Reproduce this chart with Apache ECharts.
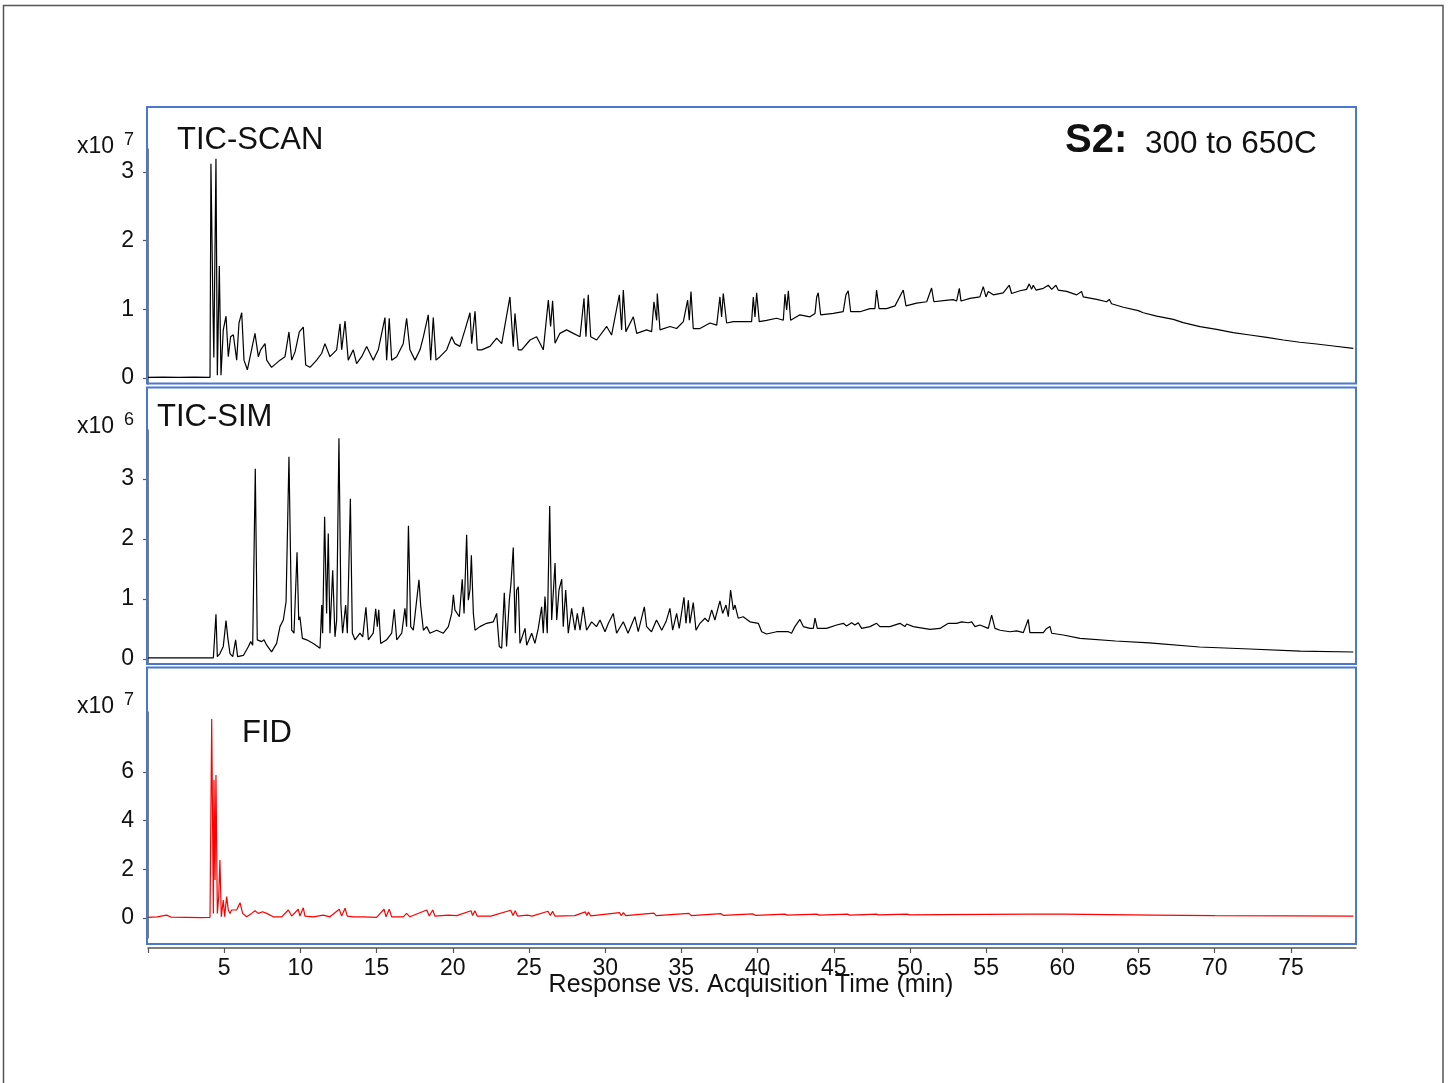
<!DOCTYPE html>
<html>
<head>
<meta charset="utf-8">
<script src="https://cdn.jsdelivr.net/npm/echarts@6/dist/echarts.min.js"></script>
<style>html,body{margin:0;padding:0;background:#fff}#c{width:1448px;height:1083px}</style>
</head>
<body>
<div id="c"></div>
<script>
// Time axis (min)
const xTicks = [0,5,10,15,20,25,30,35,40,45,50,55,60,65,70,75];
const xLabels = [5,10,15,20,25,30,35,40,45,50,55,60,65,70,75];
const yTicksScan = [0,1,2,3];
const yTicksSim = [0,1,2,3];
const yTicksFid = [0,2,4,6];
const panelTitles = ['TIC-SCAN','TIC-SIM','FID'];
const exponents = ['7','6','7'];
const axisTitle = 'Response vs. Acquisition Time (min)';

// TIC-SCAN, x10^7
const scanData = [
[0,0.01],[1.0,0.012],[2.0,0.01],[3.0,0.012],[4.07,0.01],
[4.13,3.12],[4.25,1.2],[4.32,0.3],[4.46,3.19],[4.55,0.04],[4.68,1.63],[4.79,0.04],[4.94,0.70],[5.12,0.90],[5.27,0.31],[5.42,0.60],[5.60,0.63],[5.82,0.26],[5.97,0.80],[6.15,0.95],[6.30,0.26],[6.52,0.12],[7.02,0.65],[7.24,0.31],[7.39,0.41],[7.68,0.50],[7.79,0.26],[8.11,0.155],[8.66,0.26],[8.99,0.31],[9.25,0.67],[9.43,0.26],[9.65,0.38],[9.93,0.67],[10.19,0.74],[10.35,0.19],[10.63,0.155],[11.07,0.26],[11.40,0.36],[11.61,0.50],[11.94,0.31],[12.38,0.41],[12.60,0.79],[12.71,0.41],[12.93,0.83],[13.14,0.26],[13.47,0.41],[13.69,0.21],[14.02,0.31],[14.35,0.46],[14.78,0.26],[15.11,0.41],[15.55,0.88],[15.66,0.26],[15.83,0.87],[15.99,0.26],[16.32,0.31],[16.75,0.50],[16.97,0.87],[17.19,0.41],[17.52,0.26],[17.85,0.41],[18.07,0.60],[18.39,0.92],[18.55,0.26],[18.72,0.88],[18.90,0.26],[19.16,0.31],[19.60,0.41],[19.93,0.60],[20.14,0.50],[20.47,0.46],[20.80,0.70],[21.13,0.95],[21.24,0.50],[21.46,0.97],[21.61,0.41],[21.89,0.41],[22.44,0.46],[22.88,0.58],[23.21,0.50],
[23.75,1.18],[23.97,0.455],[24.08,0.94],[24.30,0.41],[24.52,0.41],[25.07,0.553],[25.50,0.60],[25.94,0.41],[26.27,1.135],[26.42,0.75],[26.55,1.125],[26.71,0.505],[27.03,0.65],[27.47,0.70],[27.91,0.65],[28.35,0.60],[28.61,1.16],[28.74,0.60],[28.89,1.21],[29.05,0.60],[29.44,0.553],[30.10,0.75],[30.42,0.625],[30.93,1.21],[31.08,0.70],[31.19,1.28],[31.36,0.675],[31.85,0.89],[32.07,0.65],[32.72,0.70],[33.05,0.675],[33.20,1.11],[33.38,0.84],[33.42,1.23],[33.60,0.70],[34.25,0.75],[34.69,0.72],[35.13,0.82],[35.41,1.135],[35.52,0.84],[35.63,1.26],[35.78,0.72],[36.22,0.72],[36.88,0.80],[37.32,0.77],[37.53,1.18],[37.64,0.89],[37.75,1.23],[37.97,0.80],[38.41,0.82],[39.06,0.82],[39.61,0.82],[39.72,1.18],[39.83,0.89],[39.94,1.24],[40.11,0.82],[40.59,0.84],[41.25,0.87],[41.69,0.84],[41.80,1.22],[41.91,0.99],[42.02,1.27],[42.17,0.84],[42.78,0.92],[43.44,0.89],[43.77,0.94],[43.88,1.18],[43.98,1.24],[44.14,0.92],[44.97,0.94],[45.62,0.965],[45.80,1.21],[45.95,1.27],[46.11,0.965],[46.72,0.965],[47.38,1.01],[47.70,1.01],[47.81,1.28],[47.97,1.01],[48.47,1.01],[49.02,1.05],[49.13,1.04],[49.56,1.28],[49.74,1.05],[50.44,1.09],[51.10,1.11],[51.42,1.31],[51.57,1.11],[52.19,1.125],[52.84,1.14],
[53.06,1.12],[53.24,1.305],[53.35,1.12],[53.94,1.16],[54.59,1.18],[54.81,1.33],[54.99,1.18],[55.14,1.26],[55.47,1.21],[56.12,1.24],[56.52,1.35],[56.67,1.23],[57.22,1.27],[57.65,1.29],[57.83,1.37],[57.98,1.29],[58.09,1.35],[58.27,1.28],[58.75,1.305],[59.08,1.35],[59.30,1.29],[59.58,1.35],[59.73,1.28],[60.28,1.26],[60.94,1.21],[61.26,1.26],[61.37,1.18],[62.25,1.145],[62.91,1.11],[63.08,1.145],[63.23,1.08],[64.00,1.03],[64.98,0.98],[65.09,1.0],[65.31,0.95],[66.19,0.90],[67.28,0.854],[67.93,0.805],[69.03,0.747],[70.12,0.709],[71.21,0.66],[72.31,0.626],[73.41,0.592],[74.50,0.553],[75.59,0.52],[76.69,0.495],[77.78,0.466],[79.09,0.432]
];

// TIC-SIM, x10^6
const simData = [
[0,0.02],[2,0.02],[4.29,0.02],[4.33,0.01],[4.46,0.745],[4.55,0.04],[4.72,0.09],[4.94,0.21],[5.12,0.64],[5.23,0.37],[5.38,0.09],[5.56,0.04],[5.75,0.32],[5.88,0.04],[6.26,0.06],[6.59,0.21],[6.74,0.29],[6.87,0.23],[7.04,3.17],[7.17,0.32],[7.46,0.29],[7.61,0.32],[7.79,0.23],[8.11,0.12],[8.44,0.26],[8.66,0.54],[8.88,0.65],[9.06,0.955],[9.14,0.98],[9.25,3.37],[9.43,0.48],[9.58,0.43],[9.78,1.78],[9.89,0.65],[9.97,0.705],[10.13,0.345],[10.41,0.32],[10.85,0.26],[11.29,0.18],[11.40,0.9],[11.46,0.43],[11.59,2.37],[11.72,0.76],[11.83,2.09],[11.94,0.43],[12.12,1.48],[12.27,0.37],[12.38,0.65],[12.53,3.68],[12.66,0.9],[12.77,0.43],[12.97,0.9],[13.08,0.43],[13.28,2.67],[13.41,0.43],[13.58,0.32],[13.91,0.43],[14.09,0.37],[14.30,0.86],[14.46,0.32],[14.78,0.43],[14.94,0.835],[15.05,0.54],[15.14,0.82],[15.27,0.26],[15.66,0.32],[15.99,0.43],[16.16,0.83],[16.32,0.32],[16.65,0.43],[16.86,0.845],[16.97,0.54],[17.09,2.22],[17.24,0.54],[17.41,0.48],[17.78,1.32],[17.89,0.9],[18.07,0.48],[18.29,0.54],[18.50,0.43],[18.94,0.48],[19.38,0.43],[19.71,0.54],[19.93,0.76],[20.04,1.07],[20.14,0.82],[20.43,0.705],[20.62,1.33],[20.74,0.76],[20.91,2.07],[21.02,0.98],[21.13,1.15],[21.22,1.73],[21.35,0.76],[21.46,0.48],[21.78,0.54],[22.22,0.595],[22.66,0.62],[22.88,0.76],[23.05,0.21],[23.21,0.18],[23.38,1.105],[23.53,0.21],[23.71,0.98],[23.82,1.26],[23.97,1.86],[24.10,0.43],[24.19,1.15],[24.30,1.205],[24.41,0.26],[24.74,0.51],[24.85,0.23],[25.18,0.43],[25.39,0.26],[25.61,0.51],[25.83,0.87],[25.94,0.43],[26.05,1.04],[26.20,0.43],[26.36,2.55],[26.49,0.65],[26.71,1.6],[26.82,0.65],[26.97,1.15],[27.15,1.33],[27.25,0.54],[27.41,1.15],[27.58,0.43],[27.80,0.845],[28.02,0.48],[28.17,0.76],[28.35,0.48],[28.56,0.87],
[28.78,0.48],[29.11,0.62],[29.43,0.54],[29.66,0.65],[29.99,0.455],[30.21,0.595],[30.53,0.76],[30.75,0.43],[31.19,0.62],[31.50,0.43],[31.95,0.705],[32.17,0.455],[32.57,0.87],[32.72,0.54],[33.04,0.455],[33.37,0.65],[33.71,0.48],[33.99,0.62],[34.25,0.845],[34.43,0.48],[34.69,0.76],[34.86,0.51],[35.17,1.03],[35.30,0.595],[35.46,0.98],[35.56,0.595],[35.78,0.94],[35.96,0.48],[36.22,0.595],[36.55,0.68],[36.77,0.62],[36.99,0.82],[37.20,0.65],[37.53,0.97],[37.71,0.76],[37.93,0.9],[38.08,0.705],[38.23,1.15],[38.41,0.82],[38.52,0.9],[38.73,0.68],[39.06,0.705],[39.50,0.62],[40.05,0.595],[40.27,0.455],[40.59,0.417],[41.25,0.455],[42.02,0.455],[42.23,0.43],[42.45,0.54],[42.78,0.66],[43.00,0.54],[43.44,0.51],[43.66,0.51],[43.77,0.68],[43.92,0.51],[44.53,0.51],[45.19,0.567],[45.63,0.595],[45.84,0.55],[46.17,0.605],[46.39,0.567],[46.61,0.605],[46.83,0.51],[47.38,0.54],[47.81,0.595],[48.03,0.54],[48.69,0.54],[49.34,0.595],[49.67,0.54],[49.78,0.583],[50.22,0.54],[51.31,0.495],[51.97,0.51],[52.52,0.595],[53.06,0.595],[53.39,0.62],[53.83,0.605],[54.05,0.62],[54.27,0.54],[54.59,0.567],[55.14,0.51],[55.36,0.733],[55.58,0.51],[55.91,0.48],[56.56,0.455],[57.00,0.47],[57.44,0.44],[57.76,0.66],[57.87,0.44],[58.75,0.44],[58.97,0.51],[59.19,0.54],[59.30,0.43],[60.06,0.40],[61.16,0.345],[63.5,0.30],[65.7,0.27],[69,0.2],[72.3,0.167],[75.6,0.133],[79.1,0.117]
];

// FID, x10^7
const fidData = [
[0,0.03],[0.6,0.05],[1.22,0.12],[1.5,0.04],[2.5,0.03],[3.5,0.02],[4.07,0.03],[4.18,8.17],[4.29,0.19],[4.33,5.67],[4.40,1.56],[4.46,5.87],[4.55,0.19],[4.64,0.88],[4.72,2.38],[4.81,0.05],[4.94,0.74],[5.03,0.05],[5.16,0.88],[5.27,0.33],[5.38,0.19],[5.49,0.33],[5.60,0.26],[5.82,0.33],[6.04,0.63],[6.15,0.67],[6.21,0.19],[6.47,0.05],[6.80,0.19],[7.02,0.30],[7.24,0.19],[7.52,0.26],[7.79,0.19],[8.22,0.05],[8.77,0.05],[9.21,0.33],[9.43,0.08],[9.86,0.36],[9.97,0.08],[10.19,0.42],[10.30,0.08],[10.85,0.05],[11.50,0.12],[11.94,0.05],[12.55,0.36],[12.71,0.08],[12.93,0.40],[13.08,0.08],[13.47,0.05],[14.13,0.05],[15.00,0.03],[15.49,0.36],[15.62,0.05],[15.83,0.36],[15.99,0.05],[16.75,0.05],[16.97,0.19],[17.19,0.05],[18.29,0.33],[18.46,0.08],[18.68,0.33],[18.83,0.08],[19.71,0.12],[20.26,0.10],[21.2,0.3],[21.3,0.1],[21.45,0.3],[21.6,0.08],[22.5,0.08],[23.8,0.32],[23.95,0.1],[24.1,0.3],[24.25,0.08],[24.9,0.12],[25.2,0.08],[26.25,0.28],[26.4,0.1],[26.55,0.28],[26.7,0.08],[28,0.1],[28.7,0.25],[28.8,0.1],[28.9,0.25],[29.05,0.09],[30.95,0.22],[31.05,0.1],[31.2,0.22],[31.35,0.1],[33.2,0.2],[33.35,0.1],[35.5,0.19],[35.65,0.1],[37.6,0.18],[37.75,0.11],[39.7,0.17],[39.85,0.11],[41.8,0.16],[41.95,0.12],[43.9,0.16],[44.05,0.12],[45.9,0.16],[46.05,0.12],[47.8,0.16],[47.95,0.13],[49.8,0.16],[50,0.13],[52,0.14],[55,0.15],[58,0.16],[60,0.16],[63,0.14],[66,0.12],[70,0.1],[75,0.09],[79.1,0.08]
];

const FONT = 'Liberation Sans, Arial, sans-serif';
const AX = '#555';
const BOX = '#4a78d0';
const X_MAX = 79.27;
const gridsPx = [
  {top:149, height:235, min:-0.0873, max:3.333},
  {top:430, height:234, min:-0.083, max:3.817},
  {top:712, height:226, min:-0.82, max:8.46}
];
const yTicks = [yTicksScan, yTicksSim, yTicksFid];
const datas = [scanData, simData, fidData];
const colors = ['#000','#000','#ff0000'];

const chart = echarts.init(document.getElementById('c'), null, {renderer:'canvas'});
const option = {
  animation:false,
  backgroundColor:'#fff',
  grid: gridsPx.map(g => ({left:148, width:1208, top:g.top, height:g.height, containLabel:false})),
  xAxis: gridsPx.map((g,i) => ({
    type:'value', gridIndex:i, min:0, max:X_MAX,
    show: i===2,
    offset: i===2 ? 10 : 0,
    axisLine:{show:true, onZero:false, lineStyle:{color:AX, width:1.5}},
    axisTick:{show:true, length:5, customValues:xTicks, lineStyle:{color:AX, width:1.2}},
    axisLabel:{show:true, customValues:xLabels, margin:9, fontSize:23, color:'#111', fontFamily:FONT},
    splitLine:{show:false}
  })),
  yAxis: gridsPx.map((g,i) => ({
    type:'value', gridIndex:i, min:g.min, max:g.max, offset:5,
    axisLine:{show:true, lineStyle:{color:AX, width:1.5}},
    axisTick:{show:true, length:5, customValues:yTicks[i], lineStyle:{color:AX, width:1.2}},
    axisLabel:{show:true, customValues:yTicks[i], margin:9, fontSize:23, color:'#111', fontFamily:FONT},
    splitLine:{show:false}
  })),
  series: datas.map((d,i) => ({
    type:'line', xAxisIndex:i, yAxisIndex:i, data:d, showSymbol:false, symbol:'none',
    lineStyle:{color:colors[i], width:1.2}, clip:true, silent:true
  })),
  graphic: [
    {type:'rect', shape:{x:3.5, y:5.5, width:1439.5, height:1090}, style:{fill:'none', stroke:'#555', lineWidth:1.5}, silent:true},
    {type:'rect', shape:{x:147, y:107, width:1209, height:276.5}, style:{fill:'none', stroke:BOX, lineWidth:2}, z:10, silent:true},
    {type:'rect', shape:{x:147, y:387.5, width:1209, height:276.5}, style:{fill:'none', stroke:BOX, lineWidth:2}, z:10, silent:true},
    {type:'rect', shape:{x:147, y:667.5, width:1209, height:276.5}, style:{fill:'none', stroke:BOX, lineWidth:2}, z:10, silent:true},
    {type:'text', x:751, y:985, z:20, style:{text:axisTitle, font:'25px '+FONT, fill:'#111', textAlign:'center', textVerticalAlign:'middle'}},
    {type:'text', x:177, y:140, style:{text:panelTitles[0], font:'31px '+FONT, fill:'#111', textVerticalAlign:'middle'}},
    {type:'text', x:157, y:417, style:{text:panelTitles[1], font:'31px '+FONT, fill:'#111', textVerticalAlign:'middle'}},
    {type:'text', x:242, y:733, style:{text:panelTitles[2], font:'31px '+FONT, fill:'#111', textVerticalAlign:'middle'}},
    {type:'text', x:1065, y:141, style:{text:'S2:', font:'bold 40px '+FONT, fill:'#111', textVerticalAlign:'middle'}},
    {type:'text', x:1145, y:144, style:{text:'300 to 650C', font:'31.5px '+FONT, fill:'#111', textVerticalAlign:'middle'}},
    {type:'text', x:77, y:147, style:{text:'x10', font:'23px '+FONT, fill:'#111', textVerticalAlign:'middle'}},
    {type:'text', x:124, y:140, style:{text:exponents[0], font:'18px '+FONT, fill:'#111', textVerticalAlign:'middle'}},
    {type:'text', x:77, y:427, style:{text:'x10', font:'23px '+FONT, fill:'#111', textVerticalAlign:'middle'}},
    {type:'text', x:124, y:420, style:{text:exponents[1], font:'18px '+FONT, fill:'#111', textVerticalAlign:'middle'}},
    {type:'text', x:77, y:707, style:{text:'x10', font:'23px '+FONT, fill:'#111', textVerticalAlign:'middle'}},
    {type:'text', x:124, y:700, style:{text:exponents[2], font:'18px '+FONT, fill:'#111', textVerticalAlign:'middle'}}
  ]
};
chart.setOption(option);
</script>
</body>
</html>
